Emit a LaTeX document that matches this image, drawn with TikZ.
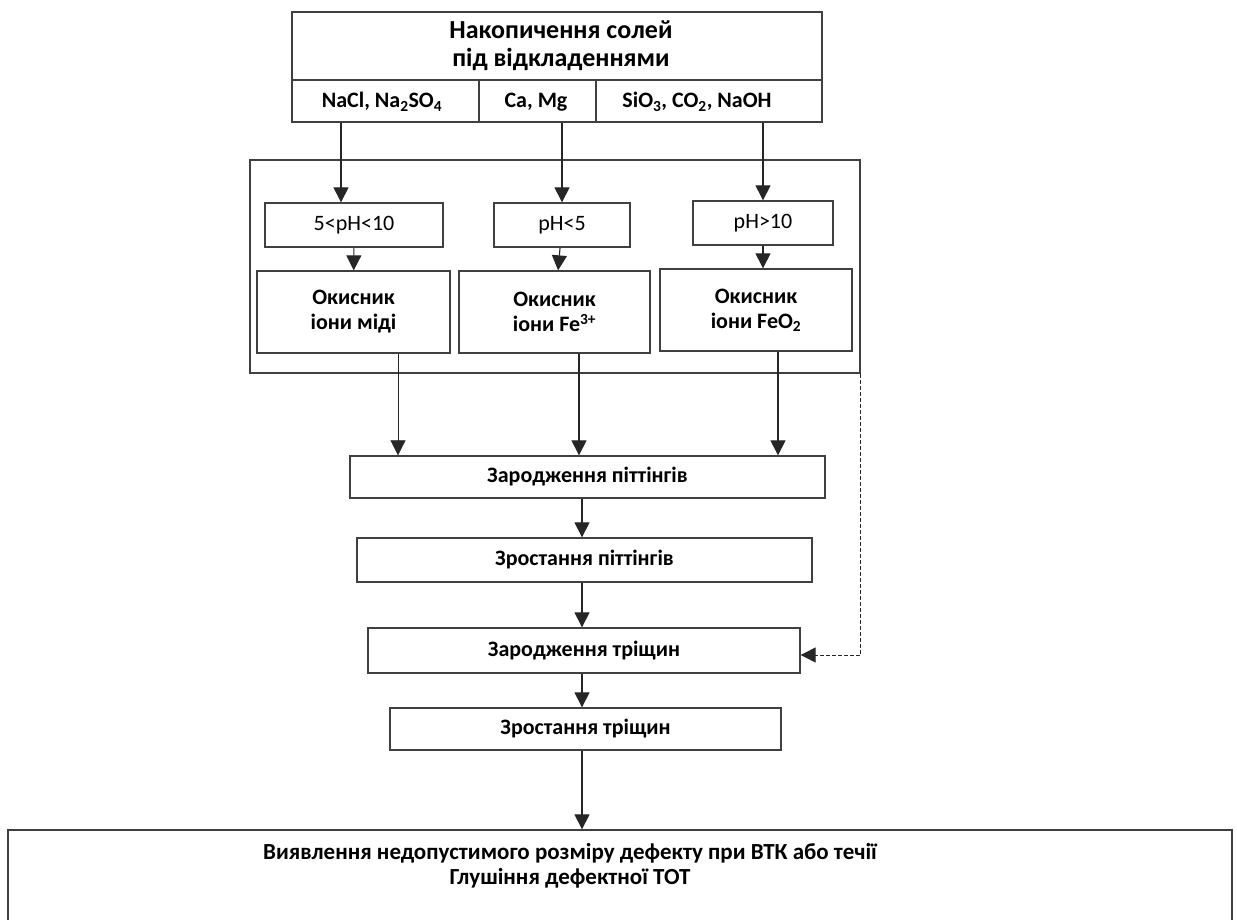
\documentclass[tikz,border=0pt]{standalone}
\usepackage{fontspec}
\setmainfont{Carlito}
\usetikzlibrary{arrows.meta,positioning}

\begin{document}
\begin{tikzpicture}[x=1pt,y=-1pt,
  box/.style={draw=black!75,line width=1.3pt,fill=white,inner sep=2pt,align=center},
  arr/.style={-{Triangle[width=15pt,length=15pt]},line width=1.1pt,black!85},
  dasharr/.style={arr,dashed,line width=1pt,dash pattern=on 4pt off 2pt},
  big/.style={font=\bfseries\fontsize{26}{28}\selectfont},
  mid/.style={font=\bfseries\fontsize{22}{25}\selectfont},
  pht/.style={font=\fontsize{22}{25}\selectfont}]
\useasboundingbox (0,0) rectangle (1237,920);
% salts under deposits
\node[box,minimum width=530pt,minimum height=110pt] (salts) at (557,67) {};
\draw[black!75,line width=1.3pt] (salts.west |- 0,80) -- (salts.east |- 0,80);
\draw[black!75,line width=1.3pt] (479,80) -- (479,0 |- salts.south);
\draw[black!75,line width=1.3pt] (596,80) -- (596,0 |- salts.south);
\node[big,align=center] (title) at (561,46) {Накопичення солей\\під відкладеннями};
\node[mid,anchor=base] (nacl) at (382,108) {NaCl, Na\textsubscript{2}SO\textsubscript{4}};
\node[mid,anchor=base] (camg) at (536,108) {Ca, Mg};
\node[mid,anchor=base] (sio) at (697,108) {SiO\textsubscript{3}, CO\textsubscript{2}, NaOH};
% pH group
\node[box,fill=none,minimum width=610pt,minimum height=213pt] (group) at (555,266.5) {};
\node[box,pht,minimum width=178pt,minimum height=44pt] (ph1) at (354,225) {5<pH<10};
\node[box,pht,minimum width=136pt,minimum height=44pt] (ph2) at (562,225) {pH<5};
\node[box,pht,minimum width=140pt,minimum height=44pt] (ph3) at (763,223) {pH>10};
\node[box,mid,minimum width=193pt,minimum height=82pt] (ox1) at (353.5,312) {Окисник\\іони міді};
\node[box,mid,minimum width=191pt,minimum height=82pt] (ox2) at (554.5,312) {Окисник\\іони Fe\textsuperscript{3+}};
\node[box,mid,minimum width=192pt,minimum height=82pt] (ox3) at (756,310) {Окисник\\іони FeO\textsubscript{2}};
% stages
\node[box,mid,minimum width=475pt,minimum height=42pt] (pit1) at (587.5,477) {Зародження піттінгів};
\node[box,mid,minimum width=455pt,minimum height=44pt] (pit2) at (584.5,560) {Зростання піттінгів};
\node[box,mid,minimum width=432pt,minimum height=45pt] (crack1) at (584,650.5) {Зародження тріщин};
\node[box,mid,minimum width=391pt,minimum height=42pt] (crack2) at (585.5,729) {Зростання тріщин};
\node[box,minimum width=1224pt,minimum height=100pt] (final) at (620,880) {};
\node[font=\bfseries\fontsize{23}{25}\selectfont,align=center] (finaltxt) at (570,866) {Виявлення недопустимого розміру дефекту при ВТК або течії\\Глушіння дефектної ТОТ};
% arrows
\draw[arr] (salts.south -| 341,0) -- (ph1.north -| 341,0);
\draw[arr] (salts.south -| ph2.north) -- (ph2.north);
\draw[arr] (salts.south -| ph3.north) -- (ph3.north);
\draw[arr] (ph1) -- (ox1);
\draw[arr] (ph2) -- (ox2);
\draw[arr] (ph3) -- (ox3.north -| ph3);
\draw[arr,line width=0.7pt] (ox1.south -| 398,0) -- (pit1.north -| 398,0);
\draw[arr] (ox2.south -| 579,0) -- (pit1.north -| 579,0);
\draw[arr] (ox3.south -| 778,0) -- (pit1.north -| 778,0);
\draw[arr] (pit1.south -| 582,0) -- (pit2.north -| 582,0);
\draw[arr] (pit2.south -| 582,0) -- (crack1.north -| 582,0);
\draw[arr] (crack1.south -| 582,0) -- (crack2.north -| 582,0);
\draw[arr] (crack2.south -| 582,0) -- (final.north -| 582,0);
\draw[dasharr] (group.south east) -- (group.south east |- 0,655) -- (crack1.east |- 0,655);
\end{tikzpicture}
\end{document}
